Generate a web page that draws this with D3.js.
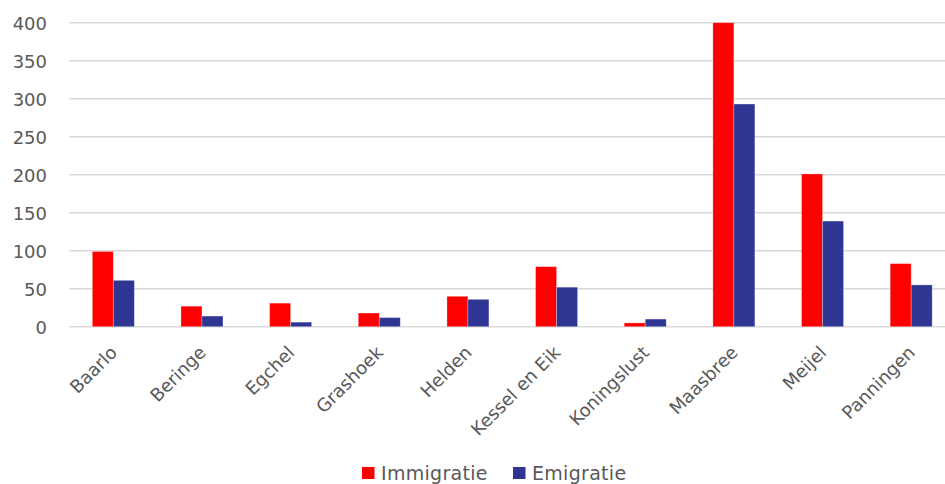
<!DOCTYPE html>
<html>
<head>
<meta charset="utf-8">
<script src="https://cdn.jsdelivr.net/npm/d3@7"></script>
<style>
  html, body { margin: 0; padding: 0; background: #fff; }
  svg { display: block; }
  text { font-family: "DejaVu Sans", sans-serif; fill: #595959; }
</style>
</head>
<body>
<svg id="chart" width="945" height="484"></svg>
<script>
// Migration per village
const categories = ["Baarlo", "Beringe", "Egchel", "Grashoek", "Helden", "Kessel en Eik", "Koningslust", "Maasbree", "Meijel", "Panningen"];
const seriesNames = ["Immigratie", "Emigratie"];
const immigratie = [99, 27, 31, 18, 40, 79, 5, 400, 201, 83];
const emigratie = [61, 14, 6, 12, 36, 52, 10, 293, 139, 55];
const yTicks = [0, 50, 100, 150, 200, 250, 300, 350, 400];
const colors = ["#ff0000", "#2e3592"];

const svg = d3.select("#chart");
const plotLeft = 69;
const plotRight = 955.5;
const y0 = 326.7;

const x = d3.scaleBand().domain(categories).range([plotLeft, plotRight]).paddingInner(0).paddingOuter(0);
const xs = d3.scaleBand().domain(seriesNames).range([0, 42]).padding(0);
const y = d3.scaleLinear().domain([0, 400]).range([y0, 22.7]);

// Gridlines
svg.append("g")
  .selectAll("line")
  .data(yTicks)
  .join("line")
  .attr("x1", plotLeft)
  .attr("x2", plotRight)
  .attr("y1", d => y(d))
  .attr("y2", d => y(d))
  .attr("stroke", "#d9d9d9")
  .attr("stroke-width", 1.5);

// Y axis labels
const yAxis = d3.axisLeft(y).tickValues(yTicks).tickSize(0).tickPadding(0);
const gy = svg.append("g").attr("transform", "translate(47,0)").call(yAxis);
gy.select(".domain").remove();
gy.selectAll("text").style("font-size", "18px").attr("fill", "#595959").attr("dy", "0.36em")
  .style("font-family", "'DejaVu Sans', sans-serif");

// Bars
const rows = categories.map((c, i) => ({ cat: c, vals: [immigratie[i], emigratie[i]] }));
const groups = svg.append("g")
  .selectAll("g")
  .data(rows)
  .join("g")
  .attr("transform", d => `translate(${x(d.cat) + x.bandwidth() / 2 - 21},0)`);

groups.selectAll("rect")
  .data(d => d.vals.map((v, k) => ({ name: seriesNames[k], v, k })))
  .join("rect")
  .attr("x", d => xs(d.name))
  .attr("width", xs.bandwidth())
  .attr("y", d => y(d.v))
  .attr("height", d => y0 - y(d.v))
  .attr("fill", d => colors[d.k])
  .attr("stroke", "rgba(255,255,255,0.35)")
  .attr("stroke-width", 0.8);

// X axis labels
const xAxis = d3.axisBottom(x).tickSize(0).tickPadding(0);
const gx = svg.append("g").attr("transform", `translate(0,${y0})`).call(xAxis);
gx.select(".domain").remove();
gx.selectAll("text")
  .style("font-size", "18px")
  .style("font-family", "'DejaVu Sans', sans-serif")
  .attr("fill", "#595959")
  .attr("text-anchor", "end")
  .attr("dy", null)
  .attr("y", 0)
  .attr("transform", "translate(5,27) rotate(-45)");

// Legend
const legend = svg.append("g").attr("transform", "translate(362,467)");
const items = [{ name: seriesNames[0], x: 0 }, { name: seriesNames[1], x: 151 }];
items.forEach((it, k) => {
  legend.append("rect").attr("x", it.x).attr("y", 0).attr("width", 12.5).attr("height", 12).attr("fill", colors[k]);
  legend.append("text").attr("x", it.x + 19).attr("y", 12.5)
    .style("font-size", "19px").style("letter-spacing", "0.3px").text(it.name);
});
</script>
</body>
</html>
